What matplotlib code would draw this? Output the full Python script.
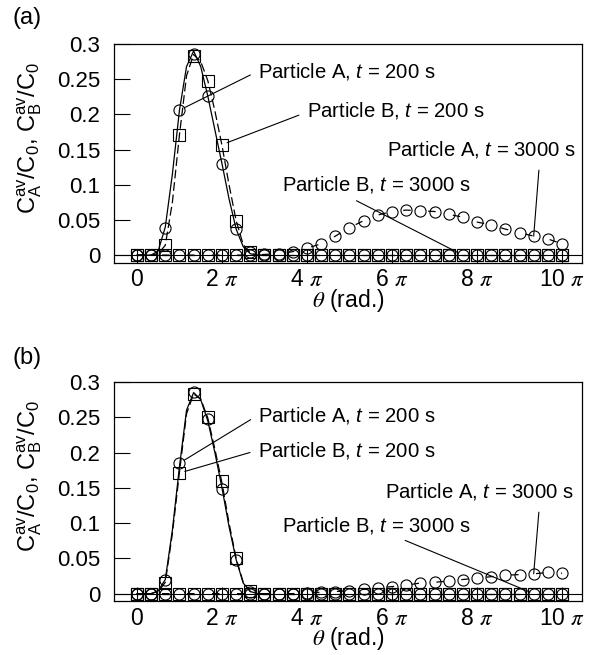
import numpy as np
import matplotlib
matplotlib.use("Agg")
import matplotlib.pyplot as plt

plt.rcParams["font.family"] = ["Liberation Sans", "DejaVu Sans"]
plt.rcParams["mathtext.fontset"] = "custom"
plt.rcParams["mathtext.rm"] = "Liberation Sans"
plt.rcParams["mathtext.it"] = "Liberation Sans:italic"
plt.rcParams["mathtext.bf"] = "Liberation Sans:bold"

# marker grid: theta = k*pi/3, k = 0..30 ; curve grid: j*pi/6, j = 0..18
theta = np.arange(31) * np.pi / 3
theta_fine = np.arange(19) * np.pi / 6

xtick_vals = np.arange(0, 11, 2) * np.pi
xtick_labels = ["0", "2 $\\pi$", "4 $\\pi$", "6 $\\pi$", "8 $\\pi$", "10 $\\pi$"]
ytick_vals = [0, 0.05, 0.1, 0.15, 0.2, 0.25, 0.3]
ytick_labels = ["0", "0.05", "0.1", "0.15", "0.2", "0.25", "0.3"]

# ---- panel (a) ----
a_A200 = [0, 0, 0.039, 0.206, 0.286, 0.226, 0.130, 0.0365, 0.004,
          0, 0, 0, 0, 0, 0, 0, 0, 0, 0, 0, 0, 0, 0, 0, 0, 0, 0, 0, 0, 0, 0]
a_B200 = [0, 0, 0.014, 0.171, 0.283, 0.248, 0.157, 0.049, 0.004,
          0, 0, 0, 0, 0, 0, 0, 0, 0, 0, 0, 0, 0, 0, 0, 0, 0, 0, 0, 0, 0, 0]
a_A3000 = [0, 0, 0, 0, 0, 0, 0, 0, 0, 0.001, 0.002, 0.005, 0.010, 0.016, 0.027,
           0.039, 0.049, 0.057, 0.062, 0.064, 0.063, 0.062, 0.058, 0.054, 0.047,
           0.043, 0.037, 0.032, 0.027, 0.023, 0.016]
a_B3000 = [0] * 31
a_curveA = [0, 0, 0, 0.006, 0.040, 0.115, 0.206, 0.268, 0.290, 0.268, 0.226,
            0.178, 0.130, 0.080, 0.037, 0.012, 0.002, 0, 0]
a_curveB = [0, 0, 0, 0.002, 0.014, 0.075, 0.171, 0.255, 0.285, 0.275, 0.248,
            0.205, 0.156, 0.100, 0.049, 0.015, 0.003, 0, 0]

# ---- panel (b) ----
b_A200 = [0, 0, 0.020, 0.185, 0.286, 0.247, 0.149, 0.048, 0.003,
          0, 0, 0, 0, 0, 0, 0, 0, 0, 0, 0, 0, 0, 0, 0, 0, 0, 0, 0, 0, 0, 0]
b_B200 = [0, 0, 0.0146, 0.171, 0.283, 0.250, 0.159, 0.050, 0.004,
          0, 0, 0, 0, 0, 0, 0, 0, 0, 0, 0, 0, 0, 0, 0, 0, 0, 0, 0, 0, 0, 0]
b_A3000 = [0, 0, 0, 0, 0, 0, 0, 0, 0, 0, 0, 0, 0.001, 0.002, 0.003, 0.004,
           0.006, 0.008, 0.010, 0.012, 0.015, 0.016, 0.018, 0.020, 0.022,
           0.024, 0.026, 0.027, 0.028, 0.030, 0.029]
b_B3000 = [0] * 31
b_curveA = [0, 0, 0, 0.004, 0.020, 0.090, 0.180, 0.260, 0.285, 0.275, 0.245,
            0.200, 0.150, 0.095, 0.048, 0.015, 0.003, 0, 0]
b_curveB = [0, 0, 0, 0.003, 0.016, 0.085, 0.172, 0.255, 0.283, 0.276, 0.249,
            0.205, 0.157, 0.100, 0.050, 0.016, 0.003, 0, 0]

lab_A200 = "Particle A, $\\mathit{t}$ = 200 s"
lab_B200 = "Particle B, $\\mathit{t}$ = 200 s"
lab_A3000 = "Particle A, $\\mathit{t}$ = 3000 s"
lab_B3000 = "Particle B, $\\mathit{t}$ = 3000 s"

FS_TICK = 16
FS_LABEL = 17
FS_NOTE = 14.6


def panel(ax, A200, B200, A3000, B3000, cA, cB, notes):
    ax.axhline(0, color="k", lw=0.8)
    ax.plot(theta_fine, cA, color="k", lw=0.9)
    ax.plot(theta_fine, cB, color="k", lw=0.9, dashes=(7, 3))
    ax.plot(theta, A3000, color="k", lw=0.9, dashes=(6, 14))
    ax.plot(theta, B3000, color="k", lw=0.9, dashes=(6, 14))
    mk = dict(mfc="none", mec="k", ms=8, mew=0.8, ls="none")
    ax.plot(theta, A200, marker="o", **mk)
    ax.plot(theta, B200, marker="s", **mk)
    ax.plot(theta, A3000, marker="o", **mk)
    ax.plot(theta, B3000, marker="s", **mk)

    ax.set_xlim(-0.54 * np.pi, 10.47 * np.pi)
    ax.set_ylim(-0.0105, 0.3)
    ax.set_xticks(xtick_vals)
    ax.set_xticklabels(xtick_labels, fontsize=FS_TICK + 0.5)
    for t in ax.get_xticklabels():
        t.set_math_fontfamily("stix")
    ax.set_yticks(ytick_vals)
    ax.set_yticklabels(ytick_labels, fontsize=FS_TICK)
    ax.tick_params(axis="y", direction="in", length=11.5, width=0.8, pad=10)
    ax.tick_params(axis="x", direction="in", length=10, width=0.8, pad=4)
    for s in ax.spines.values():
        s.set_linewidth(0.9)

    xl = ax.set_xlabel("$\\theta$ (rad.)", fontsize=FS_TICK + 0.5, labelpad=-3)
    xl.set_math_fontfamily("stix")
    ax.set_ylabel("$\\mathrm{C_A^{av}/C_0}$, $\\mathrm{C_B^{av}/C_0}$", fontsize=FS_LABEL)
    ax.yaxis.set_label_coords(-0.15, 0.57)

    for text, xy, xyt, rel, shA, shB in notes:
        ax.annotate(text, xy=xy, xytext=xyt, textcoords="axes fraction",
                    fontsize=FS_NOTE, ha="left", va="center",
                    arrowprops=dict(arrowstyle="-", lw=0.8, color="k",
                                    relpos=rel, shrinkA=shA, shrinkB=shB))


fig = plt.figure(figsize=(6, 6.55), dpi=100)
ax1 = fig.add_axes([0.19, 0.5992, 0.78, 0.3336])
ax2 = fig.add_axes([0.19, 0.0824, 0.78, 0.3344])

notes_a = [
    (lab_A200, (theta[3], a_A200[3]), (0.308, 0.876), (0, 0.5), 4, 4),
    (lab_B200, (theta[6], a_B200[6]), (0.412, 0.698), (0, 0.4), 4, 4),
    (lab_A3000, (theta[28], a_A3000[28]), (0.583, 0.515), (0.81, 0), 5, 0),
    (lab_B3000, (theta[23], a_B3000[23]), (0.359, 0.355), (0.34, 0), 4, 4),
]
notes_b = [
    (lab_A200, (theta[3], b_A200[3]), (0.308, 0.849), (0, 0.5), 4, 4),
    (lab_B200, (theta[3], b_B200[3]), (0.308, 0.689), (0, 0.5), 4, 4),
    (lab_A3000, (theta[28], b_A3000[28]), (0.579, 0.498), (0.82, 0), 5, 0),
    (lab_B3000, (theta[28], b_B3000[28]), (0.359, 0.347), (0.59, 0), 4, 3),
]

panel(ax1, a_A200, a_B200, a_A3000, a_B3000, a_curveA, a_curveB, notes_a)
panel(ax2, b_A200, b_B200, b_A3000, b_B3000, b_curveA, b_curveB, notes_b)

fig.text(13 / 600, 1 - 18 / 655, "(a)", fontsize=FS_LABEL, ha="left", va="center")
fig.text(13 / 600, 1 - 358 / 655, "(b)", fontsize=FS_LABEL, ha="left", va="center")

fig.savefig("out.png", dpi=100)
